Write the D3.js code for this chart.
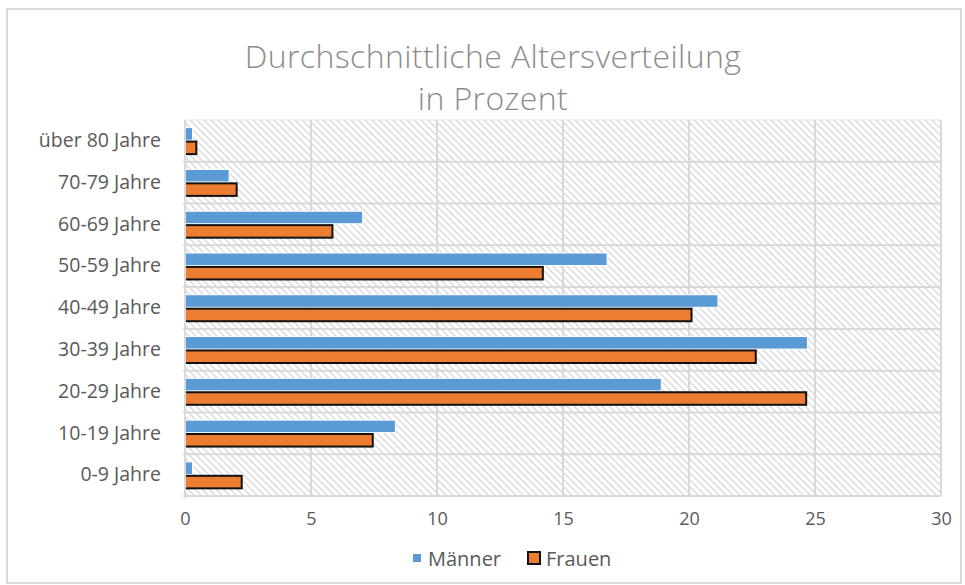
<!DOCTYPE html>
<html><head><meta charset="utf-8">
<script src="https://cdn.jsdelivr.net/npm/d3@7"></script>
<style>body{margin:0;background:#fff;font-family:"Open Sans",sans-serif;}</style>
</head><body><svg id="c" width="965" height="585"></svg>
<script>
const categories = ["über 80 Jahre","70-79 Jahre","60-69 Jahre","50-59 Jahre","40-49 Jahre","30-39 Jahre","20-29 Jahre","10-19 Jahre","0-9 Jahre"];
const maenner = [0.3,1.75,7.05,16.75,21.15,24.7,18.9,8.35,0.3];
const frauen  = [0.45,2.05,5.85,14.2,20.1,22.65,24.65,7.45,2.25];
const seriesNames = ["Männer","Frauen"];
const xTicks = [0,5,10,15,20,25,30];
const titleLines = ["Durchschnittliche Altersverteilung","in Prozent"];

const svg = d3.select("#c");
const m={l:185,r:941,t:120,b:496};
svg.append("rect").attr("x",7).attr("y",9).attr("width",954).attr("height",574)
  .attr("fill","#fff").attr("stroke","#d9d9d9").attr("stroke-width",2);

const defs=svg.append("defs");
const pat=defs.append("pattern").attr("id","hatch").attr("patternUnits","userSpaceOnUse")
  .attr("width",7).attr("height",7);
pat.append("rect").attr("width",7).attr("height",7).attr("fill","#fff");
pat.append("path").attr("d","M-1,-1 L8,8 M-1,6 L1,8 M6,-1 L8,1").attr("stroke","#dadada").attr("stroke-width",1.4);

const x=d3.scaleLinear().domain([0,30]).range([m.l,m.r]);
const y=d3.scaleBand().domain(categories).range([m.t,m.b]);
const inner=d3.scaleBand().domain(seriesNames).range([0,y.bandwidth()]).paddingInner(0.1).paddingOuter(0.55);

svg.append("rect").attr("x",m.l).attr("y",m.t).attr("width",m.r-m.l).attr("height",m.b-m.t).attr("fill","url(#hatch)");

svg.append("g").selectAll("line").data(xTicks).join("line")
  .attr("x1",d=>x(d)).attr("x2",d=>x(d)).attr("y1",m.t).attr("y2",m.b)
  .attr("stroke","#d9d9d9").attr("stroke-width",2);
svg.append("g").selectAll("line").data(categories).join("line")
  .attr("x1",m.l-2).attr("x2",m.r).attr("y1",d=>y(d)+y.bandwidth()).attr("y2",d=>y(d)+y.bandwidth())
  .attr("stroke","#d9d9d9").attr("stroke-width",2);
svg.append("line").attr("x1",m.l).attr("x2",m.r).attr("y1",m.t).attr("y2",m.t).attr("stroke","#e3e3e3").attr("stroke-width",1);

const g=svg.append("g");
g.selectAll(".m").data(categories).join("rect")
  .attr("x",x(0)).attr("y",d=>y(d)+inner("Männer"))
  .attr("width",(d,i)=>x(maenner[i])-x(0)).attr("height",inner.bandwidth())
  .attr("fill","#5b9bd5").attr("stroke","#fff").attr("stroke-width",1);
g.selectAll(".f").data(categories).join("rect")
  .attr("x",x(0)).attr("y",d=>y(d)+inner("Frauen"))
  .attr("width",(d,i)=>x(frauen[i])-x(0)).attr("height",inner.bandwidth())
  .attr("fill","#ed7d31").attr("stroke","#111").attr("stroke-width",2);

svg.append("line").attr("x1",m.l).attr("x2",m.l).attr("y1",m.t).attr("y2",m.b+2).attr("stroke","#d9d9d9").attr("stroke-width",2);

const xa=svg.append("g").attr("transform",`translate(0,${m.b})`)
  .call(d3.axisBottom(x).tickValues(xTicks).tickSize(0).tickPadding(16));
xa.select(".domain").remove();
xa.selectAll("text").attr("fill","#595959").style("font-size","18px").style("font-family","'Open Sans',sans-serif");

const ya=svg.append("g").attr("transform",`translate(${m.l},0)`)
  .call(d3.axisLeft(y).tickSize(0).tickPadding(24));
ya.select(".domain").remove();
ya.selectAll("text").attr("fill","#595959").style("font-size","19.5px").style("font-family","'Open Sans',sans-serif");

svg.append("g").selectAll("text").data(titleLines).join("text")
  .attr("x",493).attr("y",(d,i)=>68+i*42).attr("text-anchor","middle")
  .attr("fill","#8c8c8c").style("font-size","32px").style("font-weight","300").style("letter-spacing","0.4px")
  .style("font-family","'Open Sans',sans-serif").text(d=>d);

const lg=svg.append("g");
lg.append("rect").attr("x",413).attr("y",554).attr("width",8).attr("height",8).attr("fill","#5b9bd5");
lg.append("text").attr("x",428).attr("y",566).attr("fill","#595959").style("font-size","20px").text(seriesNames[0]);
lg.append("rect").attr("x",528).attr("y",552).attr("width",12).attr("height",12).attr("fill","#ed7d31").attr("stroke","#111").attr("stroke-width",2);
lg.append("text").attr("x",546).attr("y",566).attr("fill","#595959").style("font-size","20px").text(seriesNames[1]);
</script></body></html>
